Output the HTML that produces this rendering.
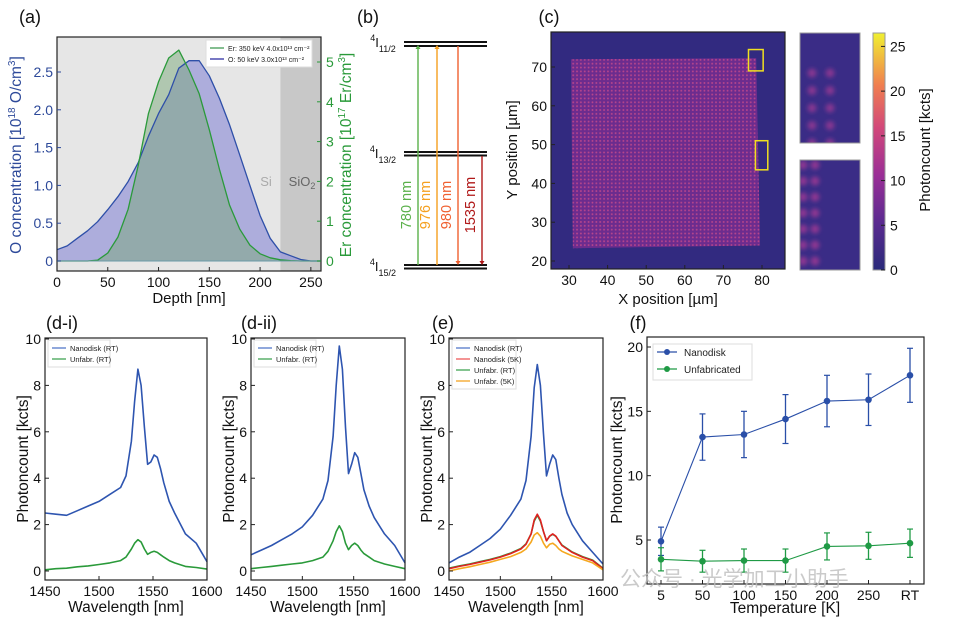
<!DOCTYPE html>
<html><head><meta charset="utf-8">
<style>
html,body{margin:0;padding:0;background:#fff;}
svg{display:block;font-family:"Liberation Sans","Noto Sans CJK SC",sans-serif;}
</style></head>
<body>
<svg id="fig" width="956" height="623" viewBox="0 0 956 623" xmlns="http://www.w3.org/2000/svg">
<defs>
  <linearGradient id="plasma" x1="0" y1="1" x2="0" y2="0">
    <stop offset="0" stop-color="#2a2a7a"/><stop offset="0.2" stop-color="#5a2a90"/>
    <stop offset="0.4" stop-color="#9a2e96"/><stop offset="0.6" stop-color="#d2487a"/>
    <stop offset="0.78" stop-color="#f07e50"/><stop offset="1" stop-color="#f0f030"/>
  </linearGradient>
  <pattern id="dots" width="3.86" height="3.86" patternUnits="userSpaceOnUse">
    <rect width="3.86" height="3.86" fill="#6c2c8e"/>
    <circle cx="1.9" cy="1.9" r="0.95" fill="#b8468c"/>
  </pattern>
  <filter id="blur" x="-50%" y="-50%" width="200%" height="200%"><feGaussianBlur stdDeviation="2"/></filter>
  <clipPath id="clipI1"><rect x="800" y="33" width="60" height="110"/></clipPath>
  <clipPath id="clipI2"><rect x="800" y="160" width="60" height="110"/></clipPath>
</defs>
<g id="root"></g>
<text x="620" y="586" font-size="21" fill="#bdbdbd" opacity="0.8">公众号 · 光学加工小助手</text>
</svg>
<script>
// ---------- Data ----------
const depth = [0,10,20,30,40,50,60,70,80,90,100,110,120,130,140,150,160,170,180,190,200,210,220,230,240,250,260];
const oConc = [0.15,0.2,0.3,0.4,0.52,0.68,0.85,1.05,1.3,1.65,1.95,2.2,2.55,2.65,2.65,2.45,2.15,1.8,1.4,1.0,0.6,0.3,0.12,0.07,0.02,0,0];
const erConc = [0,0,0,0,0.02,0.2,0.6,1.3,2.4,3.7,4.5,5.1,5.3,4.8,4.2,3.3,2.3,1.4,0.8,0.4,0.18,0.08,0.03,0.01,0,0,0];
const aXTicks = [0,50,100,150,200,250];
const aYTicksL = [0,0.5,1.0,1.5,2.0,2.5];
const aYTicksR = [0,1,2,3,4,5];

const wl = [1450,1460,1470,1480,1490,1500,1510,1520,1525,1530,1533,1536,1539,1542,1545,1548,1551,1554,1557,1560,1565,1570,1580,1590,1600];
const d1Nano = [2.5,2.45,2.4,2.6,2.8,3.0,3.3,3.6,4.1,5.6,7.3,8.7,8.0,6.2,4.6,4.7,5.0,4.9,4.4,3.8,3.0,2.5,1.6,1.2,0.4];
const d1Unf = [0.05,0.1,0.12,0.18,0.22,0.28,0.35,0.45,0.6,0.95,1.2,1.35,1.25,0.95,0.72,0.8,0.85,0.8,0.7,0.6,0.45,0.35,0.2,0.15,0.08];
const d2Nano = [0.7,0.9,1.1,1.35,1.6,1.9,2.4,3.1,3.9,5.8,8.0,9.7,8.7,6.2,4.2,4.6,5.1,4.9,4.2,3.5,2.8,2.3,1.6,1.1,0.35];
const d2Unf = [0.1,0.15,0.2,0.25,0.3,0.35,0.45,0.6,0.85,1.3,1.7,1.95,1.7,1.2,0.92,1.1,1.2,1.1,0.9,0.75,0.6,0.45,0.3,0.2,0.1];
const eNanoRT = [0.35,0.6,0.8,1.1,1.4,1.8,2.4,3.1,3.9,5.8,7.9,8.9,8.0,5.9,4.1,4.6,5.0,4.8,4.0,3.3,2.5,2.0,1.3,0.8,0.3];
const eNano5K = [0.1,0.2,0.28,0.38,0.48,0.6,0.75,0.95,1.15,1.6,2.2,2.45,2.2,1.7,1.3,1.5,1.6,1.5,1.3,1.1,0.95,0.8,0.6,0.45,0.1];
const eUnfRT = [0.12,0.22,0.3,0.4,0.5,0.62,0.77,0.97,1.17,1.6,2.15,2.4,2.15,1.7,1.3,1.5,1.58,1.5,1.3,1.12,0.97,0.82,0.62,0.47,0.12];
const eUnf5K = [0.0,0.1,0.18,0.28,0.38,0.5,0.62,0.8,0.95,1.25,1.55,1.65,1.5,1.2,1.0,1.15,1.2,1.1,0.95,0.85,0.75,0.65,0.5,0.35,0.05];
const wlTicks = [1450,1500,1550,1600];
const specYTicks = [0,2,4,6,8,10];

const tempLabels = ["5","50","100","150","200","250","RT"];
const fNano = [4.9,13.0,13.2,14.4,15.8,15.9,17.8];
const fNanoErr = [1.1,1.8,1.8,1.9,2.0,2.0,2.1];
const fUnf = [3.5,3.35,3.4,3.4,4.5,4.55,4.75];
const fUnfErr = [0.9,0.85,0.9,0.9,1.05,1.05,1.1];
const fYTicks = [5,10,15,20];

const cXTicks = [30,40,50,60,70,80];
const cYTicks = [20,30,40,50,60,70];
const cbTicks = [0,5,10,15,20,25];

// ---------- Helpers ----------
const NS="http://www.w3.org/2000/svg";
const root=document.getElementById('root');
function el(tag,attrs,parent,txt){const e=document.createElementNS(NS,tag);for(const k in attrs)e.setAttribute(k,attrs[k]);if(txt!==undefined)e.textContent=txt;(parent||root).appendChild(e);return e;}
function sc(d0,d1,p0,p1){return v=>p0+(v-d0)/(d1-d0)*(p1-p0);}
function frame(x0,y0,x1,y1,name){const r=el('rect',{x:x0,y:y0,width:x1-x0,height:y1-y0,fill:'none',stroke:'#222','stroke-width':1.2});}
function xticks(ticks,xs,yb,labels,fs,name){const g=el('g',{});
 ticks.forEach((t,i)=>{el('line',{x1:xs(t),x2:xs(t),y1:yb,y2:yb-4,stroke:'#222'},g);el('text',{x:xs(t),y:yb+16,'font-size':fs||14,'text-anchor':'middle',fill:'#111'},g,labels?labels[i]:String(t));});}
function yticks(ticks,ys,xl,fmt,color,right,name){const g=el('g',{});
 ticks.forEach(t=>{const y=ys(t);el('line',{x1:xl,x2:right?xl-4:xl+4,y1:y,y2:y,stroke:color||'#222'},g);el('text',{x:right?xl+5:xl-4,y:y+5,'font-size':14,'text-anchor':right?'start':'end',fill:color||'#111'},g,fmt?fmt(t):String(t));});}
function label(x,y,txt,fs,rot,color,name){const t=el('text',{x:x,y:y,'font-size':fs,'text-anchor':'middle',fill:color||'#111',transform:rot?`rotate(-90 ${x} ${y})`:''});t.innerHTML=txt;return t;}
function line(xs,ys,X,Y,color,w,name){const p=X.map((v,i)=>xs(v).toFixed(1)+','+ys(Y[i]).toFixed(1)).join(' ');const l=el('polyline',{points:p,fill:'none',stroke:color,'stroke-width':w||1.2,'stroke-linejoin':'round'});return l;}
function legend(x,y,w,items,fs,name){const g=el('g',{});
 const h=items.length*11+5;el('rect',{x:x,y:y,width:w,height:h,fill:'#fff',stroke:'#ddd'},g);
 items.forEach((it,i)=>{const yy=y+8+i*11;el('line',{x1:x+4,x2:x+18,y1:yy,y2:yy,stroke:it[1],'stroke-width':1.5},g);el('text',{x:x+22,y:yy+3,'font-size':fs||8,fill:'#222'},g,it[0]);});}

// ---------- Panel (a) ----------
(function(){
 const x0=57,x1=321,y0=37,y1=271;
 const xs=sc(0,260,x0,x1), ysL=sc(0,2.5,261,72), ysR=sc(0,5,261,62);
 el('rect',{x:x0,y:y0,width:xs(220)-x0,height:y1-y0,fill:'#e6e6e6'});
 el('rect',{x:xs(220),y:y0,width:x1-xs(220),height:y1-y0,fill:'#c8c8c8'});
 const oPts=depth.map((d,i)=>xs(d).toFixed(1)+','+ysL(oConc[i]).toFixed(1)).join(' ');
 const oA=el('polygon',{points:`${xs(0)},${ysL(0)} ${oPts} ${xs(260)},${ysL(0)}`,fill:'#9a9ad8',opacity:0.75});
 
 const ePts=depth.map((d,i)=>xs(d).toFixed(1)+','+ysR(erConc[i]).toFixed(1)).join(' ');
 const eA=el('polygon',{points:`${xs(0)},${ysR(0)} ${ePts} ${xs(260)},${ysR(0)}`,fill:'#7aa87a',opacity:0.5});
 
 line(xs,ysL,depth,oConc,'#2e4fa8',1.3,'o-line');
 line(xs,ysR,depth,erConc,'#2a9a3a',1.3,'er-line');
 el('line',{x1:x0,x2:x1,y1:261,y2:261,stroke:'#6a9aa8','stroke-width':1});
 frame(x0,y0,x1,y1,'frame-a');
 xticks(aXTicks,xs,y1,null,14,'x-ticks-a');
 yticks(aYTicksL,ysL,x0,t=>t===0?'0':t.toFixed(1),'#2e4a9a',false,'y-ticks-left-a');
 yticks(aYTicksR,ysR,x1,null,'#2a9a3a',true,'y-ticks-right-a');
 label(189,303,'Depth [nm]',15,false,'#111','x-title-a');
 label(21,155,'O concentration [10<tspan font-size="10" dy="-6">18</tspan><tspan dy="6"> O/cm</tspan><tspan font-size="10" dy="-6">3</tspan><tspan dy="6">]</tspan>',15.5,true,'#2e4a9a','y-title-left-a');
 label(351,155,'Er concentration [10<tspan font-size="10" dy="-6">17</tspan><tspan dy="6"> Er/cm</tspan><tspan font-size="10" dy="-6">3</tspan><tspan dy="6">]</tspan>',15.5,true,'#2a9a3a','y-title-right-a');
 label(266,186,'Si',13,false,'#aaa','si-label');
 label(302,186,'SiO<tspan font-size="9" dy="3">2</tspan>',13,false,'#666','sio2-label');
 legend(206,40,106,[['Er: 350 keV 4.0x10¹³ cm⁻²','#5aa86a'],['O: 50 keV 3.0x10¹³ cm⁻²','#4a4ab0']],7,'legend-a');
 label(30,23,'(a)',18,false,'#111','panel-label-a');
})();

// ---------- Panel (b) ----------
(function(){
 const g=el('g',{});
 [[42,46],[152,155.5],[265,268.5]].forEach(p=>p.forEach(y=>el('line',{x1:404,x2:487,y1:y,y2:y,stroke:'#111','stroke-width':2},g)));
 const arrows=[[418,'#5ab04a',265,45,'780 nm'],[437,'#f5a020',265,45,'976 nm'],[458,'#f06030',46,265,'980 nm'],[482,'#b01818',156,265,'1535 nm']];
 arrows.forEach(a=>{const [x,c,yf,yt,t]=a;el('line',{x1:x,x2:x,y1:yf,y2:yt+(yt<yf?4:-4),stroke:c,'stroke-width':1.4},g);
  const d=yt<yf?4:-4;el('polygon',{points:`${x-2.5},${yt+d} ${x+2.5},${yt+d} ${x},${yt}`,fill:c},g);
  const tx=x-7,ty=205;el('text',{x:tx,y:ty,'font-size':14.5,fill:c,'text-anchor':'middle',transform:`rotate(-90 ${tx} ${ty})`},g,t);});
 label(383,47,'<tspan font-size="9" dy="-6">4</tspan><tspan dy="6">I</tspan><tspan font-size="9" dy="5">11/2</tspan>',13,false,'#111','level-4i11');
 label(383,158,'<tspan font-size="9" dy="-6">4</tspan><tspan dy="6">I</tspan><tspan font-size="9" dy="5">13/2</tspan>',13,false,'#111','level-4i13');
 label(383,271,'<tspan font-size="9" dy="-6">4</tspan><tspan dy="6">I</tspan><tspan font-size="9" dy="5">15/2</tspan>',13,false,'#111','level-4i15');
 label(368,23,'(b)',18,false,'#111','panel-label-b');
})();

// ---------- Panel (c) ----------
(function(){
 const x0=551,x1=785,y0=32,y1=269;
 const xs=sc(30,80,569,762), ys=sc(20,70,261,67);
 el('rect',{x:x0,y:y0,width:x1-x0,height:y1-y0,fill:'#322a80'});
 const sq=el('polygon',{points:`${xs(30.5)},${ys(72)} ${xs(78.5)},${ys(72.3)} ${xs(79.5)},${ys(24)} ${xs(31)},${ys(23.3)}`,fill:'url(#dots)'});
 
 el('rect',{x:xs(76.5),y:ys(74.5),width:xs(80.3)-xs(76.5),height:ys(69)-ys(74.5),fill:'none',stroke:'#f0e020','stroke-width':1.5});
 el('rect',{x:xs(78.3),y:ys(51),width:xs(81.5)-xs(78.3),height:ys(43.5)-ys(51),fill:'none',stroke:'#f0e020','stroke-width':1.5});
 frame(x0,y0,x1,y1,'frame-c');
 xticks(cXTicks,xs,y1,null,14,'x-ticks-c');
 yticks(cYTicks,ys,x0,null,null,false,'y-ticks-c');
 label(668,304,'X position [µm]',15,false,'#111','x-title-c');
 label(517,150,'Y position [µm]',15,true,'#111','y-title-c');
 // insets
 const i1=el('rect',{x:800,y:33,width:60,height:110,fill:'#3a2c86',stroke:'#999'});
 const g1=el('g',{'clip-path':'url(#clipI1)',filter:'url(#blur)'});
 for(let r=0;r<5;r++)for(let c=0;c<2;c++)el('circle',{cx:812+c*18,cy:73+r*17.5,r:4.5,fill:'#a53a96',opacity:0.7},g1);
 const i2=el('rect',{x:800,y:160,width:60,height:110,fill:'#3a2c86',stroke:'#999'});
 const g2=el('g',{'clip-path':'url(#clipI2)',filter:'url(#blur)'});
 for(let r=0;r<7;r++)for(let c=0;c<2;c++)el('circle',{cx:803+c*12,cy:165+r*16,r:4.5,fill:'#b03c96',opacity:0.7},g2);
 el('rect',{x:800,y:33,width:60,height:110,fill:'none',stroke:'#999'});
 el('rect',{x:800,y:160,width:60,height:110,fill:'none',stroke:'#999'});
 // colorbar
 const cb=el('rect',{x:873,y:33,width:12,height:237,fill:'url(#plasma)',stroke:'#999'});
 const cs=sc(0,26.5,270,33);
 yticks(cbTicks,cs,885,null,null,true,'colorbar-ticks');
 label(930,150,'Photoncount [kcts]',15,true,'#111','colorbar-title');
 label(549,23,'(c)',18,false,'#111','panel-label-c');
})();

// ---------- Spectra panels ----------
function spectrum(x0,x1,series,leg,legW,lab,labX,name){
 const y0=338,y1=580;
 const xs=sc(1450,1600,x0,x1), ys=sc(0,10,571,339);
 series.forEach(s=>line(xs,ys,wl,s[0],s[1],1.6,s[2]));
 frame(x0,y0,x1,y1,'frame-'+name);
 xticks(wlTicks,xs,y1,null,14,'x-ticks-'+name);
 yticks(specYTicks,ys,x0,null,null,false,'y-ticks-'+name);
 legend(x0+3,y0+2,legW,leg,7.5,'legend-'+name);
 label((x0+x1)/2,612,'Wavelength [nm]',15.5,false,'#111','x-title-'+name);
 label(x0-17,459,'Photoncount [kcts]',15.5,true,'#111','y-title-'+name);
 label(labX,329,lab,18,false,'#111','panel-label-'+name);
}
spectrum(45,207,[[d1Nano,'#2e55b0','nanodisk-rt-d1'],[d1Unf,'#2a9a3a','unfab-rt-d1']],[['Nanodisk (RT)','#6a8ad0'],['Unfabr. (RT)','#5ab06a']],62,'(d-i)',62,'d-i');
spectrum(251,405,[[d2Nano,'#2e55b0','nanodisk-rt-d2'],[d2Unf,'#2a9a3a','unfab-rt-d2']],[['Nanodisk (RT)','#6a8ad0'],['Unfabr. (RT)','#5ab06a']],62,'(d-ii)',259,'d-ii');
spectrum(449,603,[[eNanoRT,'#2e55b0','nanodisk-rt-e'],[eUnfRT,'#2a9a3a','unfab-rt-e'],[eNano5K,'#e02020','nanodisk-5k-e'],[eUnf5K,'#f5a820','unfab-5k-e']],[['Nanodisk (RT)','#6a8ad0'],['Nanodisk (5K)','#f07070'],['Unfabr. (RT)','#5ab06a'],['Unfabr. (5K)','#f5b040']],64,'(e)',443,'e');

// ---------- Panel (f) ----------
(function(){
 const x0=647,x1=924,y0=337,y1=584;
 const xs=i=>661+i*41.5, ys=sc(5,20,540,347);
 const idx=tempLabels.map((_,i)=>i);
 frame(x0,y0,x1,y1,'frame-f');
 function series(vals,errs,color,name){
  const g=el('g',{});
  el('polyline',{points:vals.map((v,i)=>xs(i)+','+ys(v)).join(' '),fill:'none',stroke:color,'stroke-width':1.1},g);
  vals.forEach((v,i)=>{const x=xs(i);el('line',{x1:x,x2:x,y1:ys(v-errs[i]),y2:ys(v+errs[i]),stroke:color,'stroke-width':1.3},g);
   [v-errs[i],v+errs[i]].forEach(e=>el('line',{x1:x-3,x2:x+3,y1:ys(e),y2:ys(e),stroke:color,'stroke-width':1.2},g));
   el('circle',{cx:x,cy:ys(v),r:3.3,fill:color},g);});
 }
 series(fNano,fNanoErr,'#2a4fa8','nanodisk-series');
 series(fUnf,fUnfErr,'#1f9a45','unfabricated-series');
 const gx=el('g',{});
 idx.forEach(i=>{el('line',{x1:xs(i),x2:xs(i),y1:y1,y2:y1-4,stroke:'#222'},gx);el('text',{x:xs(i),y:y1+16,'font-size':14,'text-anchor':'middle',fill:'#111'},gx,tempLabels[i]);});
 yticks(fYTicks,ys,x0,null,null,false,'y-ticks-f');
 const lg=el('g',{});
 el('rect',{x:653,y:344,width:99,height:36,fill:'#fff',stroke:'#ddd'},lg);
 [['Nanodisk','#2a4fa8',352],['Unfabricated','#1f9a45',369]].forEach(l=>{el('line',{x1:657,x2:677,y1:l[2],y2:l[2],stroke:l[1],'stroke-width':1.2},lg);el('circle',{cx:667,cy:l[2],r:3,fill:l[1]},lg);el('text',{x:684,y:l[2]+4,'font-size':10,fill:'#222'},lg,l[0]);});
 label(785,613,'Temperature [K]',15.5,false,'#111','x-title-f');
 label(622,460,'Photoncount [kcts]',15.5,true,'#111','y-title-f');
 label(638,329,'(f)',18,false,'#111','panel-label-f');
})();
</script>
</body></html>
